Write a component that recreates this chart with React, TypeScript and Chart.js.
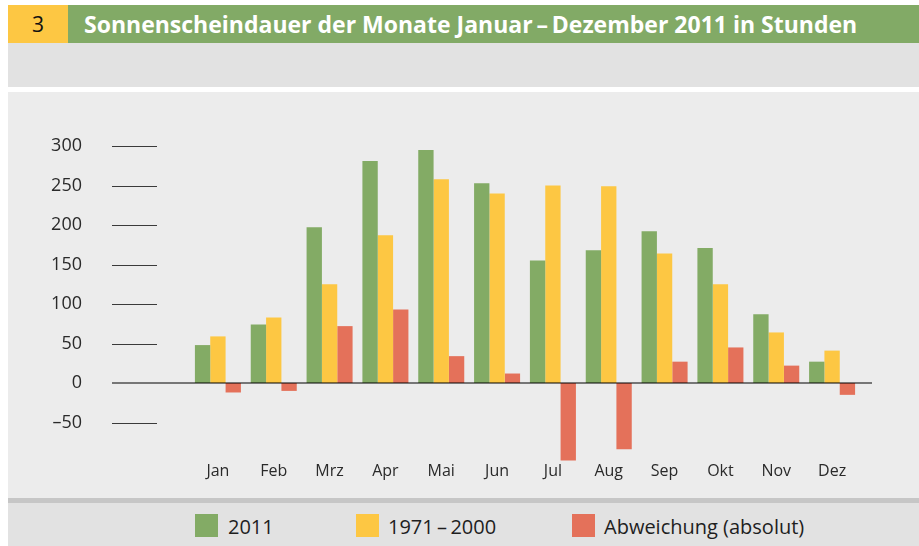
import React, { useEffect, useRef } from "react";
import { Chart, registerables } from "chart.js";

Chart.register(...registerables);

const months = ["Jan", "Feb", "Mrz", "Apr", "Mai", "Jun", "Jul", "Aug", "Sep", "Okt", "Nov", "Dez"];
const sun2011 = [48, 74, 197, 281, 295, 253, 155, 168, 192, 171, 87, 27];
const sun1971to2000 = [59, 83, 125, 187, 258, 240, 250, 249, 164, 125, 64, 41];
const deviation = [-12, -10, 72, 93, 34, 12, -98, -84, 27, 45, 22, -15];
const seriesLabels = ["2011", "1971\u2009\u2013\u20092000", "Abweichung (absolut)"];
const titleText = "Sonnenscheindauer der Monate Januar\u2009\u2013\u2009Dezember 2011 in Stunden";
const figureNumber = "3";

const GREEN = "#83ab65";
const YELLOW = "#fdc743";
const RED = "#e4715a";
const FONT = "'Open Sans', 'Noto Sans', sans-serif";

const axisLinesPlugin = {
  id: "axisLines",
  afterDatasetsDraw(chart: any) {
    const ctx = chart.ctx;
    const y = chart.scales.y;
    ctx.save();
    ctx.strokeStyle = "#3a3a3a";
    ctx.lineWidth = 1;
    y.ticks.forEach((t: any) => {
      if (t.value === 0) return;
      const py = Math.round(y.getPixelForValue(t.value)) + 0.5;
      ctx.beginPath();
      ctx.moveTo(112, py);
      ctx.lineTo(157, py);
      ctx.stroke();
    });
    const z = y.getPixelForValue(0);
    ctx.fillStyle = "rgba(0,0,0,0.5)";
    ctx.fillRect(112, Math.round(z) - 1, 872 - 112, 2);
    ctx.restore();
  },
};

export default function App() {
  const ref = useRef<HTMLCanvasElement | null>(null);

  useEffect(() => {
    document.body.style.margin = "0";
    if (!ref.current) return;
    const chart = new Chart(ref.current, {
      type: "bar",
      data: {
        labels: months,
        datasets: [
          { label: seriesLabels[0], data: sun2011, backgroundColor: GREEN },
          { label: seriesLabels[1], data: sun1971to2000, backgroundColor: YELLOW },
          { label: seriesLabels[2], data: deviation, backgroundColor: RED },
        ],
      },
      options: {
        animation: false,
        responsive: false,
        maintainAspectRatio: false,
        layout: { padding: { left: 0, right: 59, top: 54, bottom: 0 } },
        plugins: { legend: { display: false }, tooltip: { enabled: false }, title: { display: false } },
        datasets: { bar: { categoryPercentage: 0.824, barPercentage: 1 } },
        scales: {
          x: {
            grid: { display: false, drawTicks: false },
            border: { display: false },
            ticks: { color: "#2a2a2a", font: { family: FONT, size: 16 }, padding: 0, maxRotation: 0 },
            afterFit(scale: any) {
              scale.height = 36;
              scale.paddingLeft = 0;
              scale.paddingRight = 0;
            },
          },
          y: {
            min: -100,
            max: 300,
            grid: { display: false, drawTicks: false },
            border: { display: false },
            ticks: {
              stepSize: 50,
              color: "#2a2a2a",
              font: { family: FONT, size: 18 },
              padding: 108,
              callback: (v: any) => (Number(v) < 0 ? "\u2013" + Math.abs(Number(v)) : String(v)),
            },
            afterBuildTicks(scale: any) {
              scale.ticks = scale.ticks.filter((t: any) => t.value >= -50);
            },
            afterFit(scale: any) {
              scale.width = 190;
              scale.paddingTop = 0;
              scale.paddingBottom = 0;
            },
          },
        },
      },
      plugins: [axisLinesPlugin],
    });
    return () => chart.destroy();
  }, []);

  const legendItems = [
    { color: GREEN, label: seriesLabels[0], sq: 195, tx: 228 },
    { color: YELLOW, label: seriesLabels[1], sq: 356, tx: 388 },
    { color: RED, label: seriesLabels[2], sq: 572, tx: 604 },
  ];

  return (
    <div style={{ position: "absolute", left: 0, top: 0, width: 919, height: 546, background: "#ffffff", overflow: "hidden", fontFamily: FONT }}>
      <div style={{ position: "absolute", left: 8, top: 5, width: 60, height: 38, background: YELLOW, color: "#111", fontSize: 21, lineHeight: "38px", textAlign: "center" }}>
        {figureNumber}
      </div>
      <div style={{ position: "absolute", left: 68, top: 5, right: 0, height: 38, background: "#82aa66", color: "#ffffff", fontSize: 23, fontWeight: 700, lineHeight: "38px", paddingLeft: 16, whiteSpace: "nowrap" }}>
        {titleText}
      </div>
      <div style={{ position: "absolute", left: 8, top: 43, right: 0, height: 44, background: "#e2e2e2" }} />
      <div style={{ position: "absolute", left: 8, top: 92, right: 0, height: 406, background: "#ececec" }} />
      <canvas ref={ref} width={919} height={406} style={{ position: "absolute", left: 0, top: 92, width: 919, height: 406 }} />
      <div style={{ position: "absolute", left: 8, top: 498, right: 0, height: 5, background: "#c6c6c6" }} />
      <div style={{ position: "absolute", left: 8, top: 503, right: 0, height: 43, background: "#e2e2e2" }} />
      {legendItems.map((it) => (
        <React.Fragment key={it.label}>
          <div style={{ position: "absolute", left: it.sq, top: 514, width: 23, height: 23, background: it.color }} />
          <div style={{ position: "absolute", left: it.tx, top: 514, height: 26, lineHeight: "26px", fontSize: 20, color: "#1e1e1e", whiteSpace: "nowrap" }}>
            {it.label}
          </div>
        </React.Fragment>
      ))}
    </div>
  );
}
